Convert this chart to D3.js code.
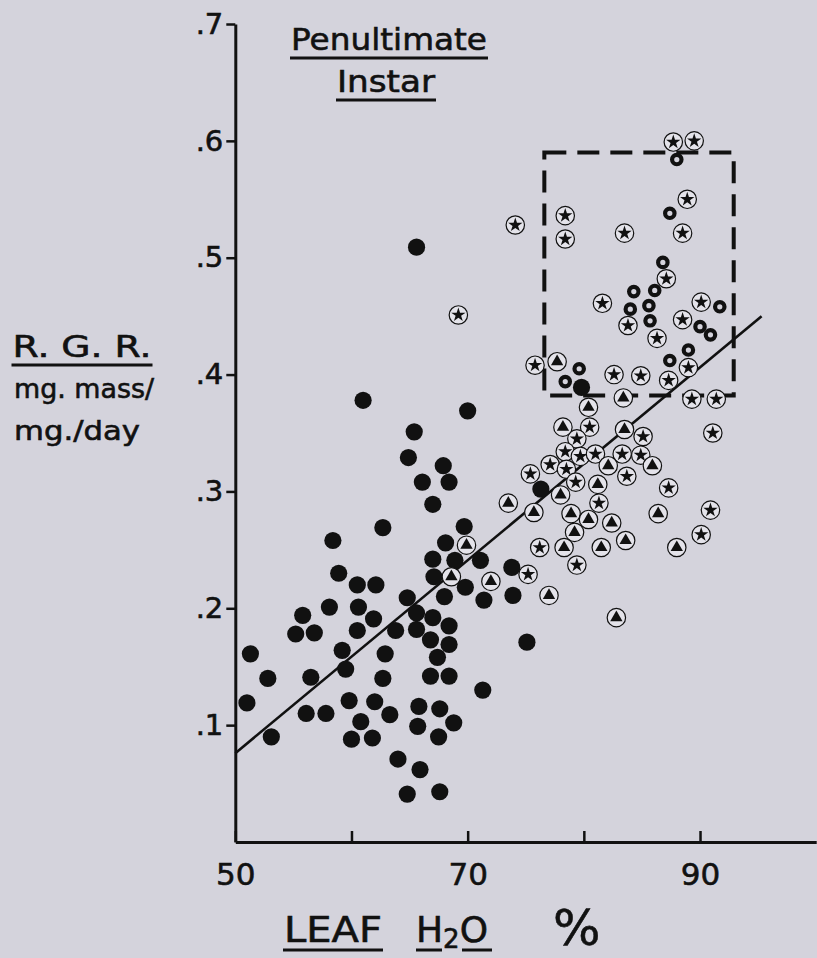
<!DOCTYPE html>
<html>
<head>
<meta charset="utf-8">
<script src="https://cdn.jsdelivr.net/npm/d3@7"></script>
<style>
  body { margin: 0; background: #d4d3dc; }
  svg { display: block; }
  text { font-family: "DejaVu Sans", sans-serif; fill: #111; stroke: #111; stroke-width: 0.6px; }
</style>
</head>
<body>
<div id="chart"></div>
<script>
// leaf water (%) vs relative growth rate, one [x, y] pair per larva
var solidPoints = [
  [61.0, .378], [70.0, .369], [65.4, .351], [64.9, .329], [67.9, .322], [66.1, .308],
  [68.4, .308], [67.0, .289], [62.7, .269], [69.7, .270], [58.4, .258], [68.1, .256],
  [67.0, .242], [68.9, .241], [71.1, .241], [58.9, .230], [67.1, .227], [60.5, .220],
  [62.1, .220], [69.8, .218], [58.1, .201], [60.6, .201], [64.8, .209], [68.0, .210],
  [71.4, .207], [55.8, .194], [61.9, .191], [65.6, .196], [67.0, .192], [55.2, .178],
  [56.8, .179], [60.5, .181], [63.8, .181], [65.6, .182], [68.4, .185], [66.8, .173],
  [68.4, .169], [51.3, .161], [59.2, .164], [62.9, .161], [67.4, .158], [59.5, .148],
  [52.8, .140], [56.5, .141], [62.7, .140], [66.8, .142], [68.4, .142], [71.3, .130],
  [51.0, .119], [59.8, .121], [62.0, .120], [65.8, .116], [67.6, .114], [56.1, .110],
  [57.8, .110], [60.8, .103], [63.3, .109], [65.7, .099], [68.8, .102], [53.1, .090],
  [60.0, .088], [61.8, .089], [67.5, .090], [64.0, .071], [65.9, .062], [64.8, .041],
  [67.6, .043], [65.6, .509], [75.1, .171], [73.8, .235], [73.9, .211], [76.3, .302],
  [79.8, .389]
];

var starPoints = [
  [87.7, .599], [89.5, .600], [88.9, .550], [78.4, .536], [74.1, .528], [78.4, .516],
  [83.5, .521], [88.5, .521], [69.2, .451], [87.1, .482], [81.6, .461], [90.1, .462],
  [83.8, .442], [88.5, .447], [86.3, .431], [75.8, .408], [82.6, .400], [84.9, .399],
  [87.3, .395], [89.0, .406], [89.3, .379], [91.4, .379], [91.1, .350], [80.5, .355],
  [79.4, .345], [78.4, .334], [77.1, .323], [79.7, .330], [81.0, .332], [78.5, .319],
  [79.3, .308], [75.4, .315], [85.1, .347], [83.3, .332], [84.9, .331], [83.7, .313],
  [81.3, .290], [87.3, .303], [90.9, .284], [90.1, .263], [76.2, .252], [79.4, .237],
  [75.2, .229]
];

var trianglePoints = [
  [77.7, .411], [80.4, .372], [83.4, .380], [78.2, .355], [83.5, .353], [82.1, .322],
  [85.9, .322], [81.2, .306], [78.0, .297], [73.5, .290], [75.7, .282], [78.9, .281],
  [80.4, .276], [82.4, .273], [86.4, .281], [79.2, .265], [83.6, .258], [78.3, .252],
  [81.5, .252], [88.0, .252], [69.9, .254], [68.6, .227], [72.0, .223], [77.0, .211],
  [82.8, .192]
];

var ringPoints = [
  [88.0, .584], [87.4, .538], [86.8, .496], [84.3, .471], [86.1, .472], [84.0, .456],
  [85.6, .459], [85.7, .446], [91.7, .458], [90.0, .441], [90.9, .434], [89.0, .421],
  [87.4, .412], [79.6, .405], [78.4, .394]
];

// fitted line and the dashed box round the fast growers
var fitLine = [[50, .076], [95.3, .450]];
var boxX = [76.6, 92.9];
var boxY = [.382, .590];

var xTicks = [50, 60, 70, 80, 90];
var xLabels = [50, 70, 90];
var yTicks = [.1, .2, .3, .4, .5, .6, .7];

var svgWidth = 817;
var svgHeight = 958;
var ink = "#111";

var svg = d3.select("#chart")
  .append("svg")
  .attr("width", svgWidth)
  .attr("height", svgHeight);

var x = d3.scaleLinear().domain([50, 100]).range([235.3, 816.2]);
var y = d3.scaleLinear().domain([0, .7]).range([842, 24]);

// axes
var xAxis = svg.append("g")
  .attr("transform", `translate(0, ${y(0)})`)
  .call(d3.axisBottom(x).tickValues(xTicks).tickSizeInner(-11).tickSizeOuter(0)
    .tickFormat(d => xLabels.includes(d) ? d : ""));
xAxis.select(".domain").attr("stroke", ink).attr("stroke-width", 3);
xAxis.selectAll(".tick line").attr("stroke", ink).attr("stroke-width", 2.5);
xAxis.selectAll(".tick text")
  .attr("y", 21)
  .attr("dy", "0.71em")
  .attr("font-size", 31)
  .attr("font-family", "DejaVu Sans")
  .attr("fill", ink);

var yAxis = svg.append("g")
  .attr("transform", `translate(${x(50)}, 0)`)
  .call(d3.axisLeft(y).tickValues(yTicks).tickSizeInner(9).tickSizeOuter(0)
    .tickFormat(d => d3.format(".1f")(d).replace(/^0/, "")));
yAxis.select(".domain").attr("stroke", ink).attr("stroke-width", 3);
yAxis.selectAll(".tick line").attr("stroke", ink).attr("stroke-width", 2.5);
yAxis.selectAll(".tick text")
  .attr("x", -12)
  .attr("font-size", 29)
  .attr("font-family", "DejaVu Sans")
  .attr("fill", ink);

// regression line
svg.append("line")
  .attr("x1", x(fitLine[0][0])).attr("y1", y(fitLine[0][1]))
  .attr("x2", x(fitLine[1][0])).attr("y2", y(fitLine[1][1]))
  .attr("stroke", ink)
  .attr("stroke-width", 2.6);

// dashed box
svg.append("rect")
  .attr("x", x(boxX[0]))
  .attr("y", y(boxY[1]))
  .attr("width", x(boxX[1]) - x(boxX[0]))
  .attr("height", y(boxY[0]) - y(boxY[1]))
  .attr("fill", "none")
  .attr("stroke", ink)
  .attr("stroke-width", 4)
  .attr("stroke-dasharray", "22,11");

// solid dots
svg.append("g").selectAll("circle")
  .data(solidPoints)
  .enter()
  .append("circle")
  .attr("cx", d => x(d[0]))
  .attr("cy", d => y(d[1]))
  .attr("r", 8.6)
  .attr("fill", ink);

// circled star / circled triangle markers
function drawMarked(points, symbolType, size) {
  var g = svg.append("g").selectAll("g")
    .data(points)
    .enter()
    .append("g")
    .attr("transform", d => `translate(${x(d[0])}, ${y(d[1])})`);
  g.append("circle")
    .attr("r", 9.2)
    .attr("fill", "#e4e3ea")
    .attr("stroke", ink)
    .attr("stroke-width", 1.2);
  g.append("path")
    .attr("d", d3.symbol(symbolType, size))
    .attr("fill", ink);
}
drawMarked(starPoints, d3.symbolStar, 64);
drawMarked(trianglePoints, d3.symbolTriangle, 66);

// open rings
svg.append("g").selectAll("circle")
  .data(ringPoints)
  .enter()
  .append("circle")
  .attr("cx", d => x(d[0]))
  .attr("cy", d => y(d[1]))
  .attr("r", 4.7)
  .attr("fill", "none")
  .attr("stroke", ink)
  .attr("stroke-width", 4.2);

// title
function underlined(txt, cx, base, size, width) {
  svg.append("text")
    .attr("x", cx)
    .attr("y", base)
    .attr("text-anchor", "middle")
    .attr("font-size", size)
    .attr("textLength", width)
    .attr("lengthAdjust", "spacingAndGlyphs")
    .text(txt);
  svg.append("line")
    .attr("x1", cx - width / 2 - 1).attr("x2", cx + width / 2 + 1)
    .attr("y1", base + 8).attr("y2", base + 8)
    .attr("stroke", ink)
    .attr("stroke-width", 3);
}
underlined("Penultimate", 389, 50, 31, 196);
underlined("Instar", 386, 92, 31, 98);

// y axis label
underlined("R. G. R.", 82, 357, 31, 139);
svg.append("text")
  .attr("x", 14).attr("y", 398)
  .attr("font-size", 27)
  .attr("textLength", 140)
  .attr("lengthAdjust", "spacingAndGlyphs")
  .text("mg. mass/");
svg.append("text")
  .attr("x", 14).attr("y", 440)
  .attr("font-size", 27)
  .attr("textLength", 126)
  .attr("lengthAdjust", "spacingAndGlyphs")
  .text("mg./day");

// x axis label
underlined("LEAF", 333, 942, 36, 98);
var h2o = svg.append("text")
  .attr("x", 416)
  .attr("y", 942)
  .attr("font-size", 36);
h2o.append("tspan").text("H");
h2o.append("tspan").attr("dy", 6).attr("font-size", 26).text("2");
h2o.append("tspan").attr("dy", -6).text("O");
svg.append("line")
  .attr("x1", 416).attr("x2", 442)
  .attr("y1", 950).attr("y2", 950)
  .attr("stroke", ink).attr("stroke-width", 3);
svg.append("line")
  .attr("x1", 462).attr("x2", 492)
  .attr("y1", 950).attr("y2", 950)
  .attr("stroke", ink).attr("stroke-width", 3);
svg.append("text")
  .attr("x", 553)
  .attr("y", 945)
  .attr("font-size", 50)
  .text("%");
</script>
</body>
</html>
